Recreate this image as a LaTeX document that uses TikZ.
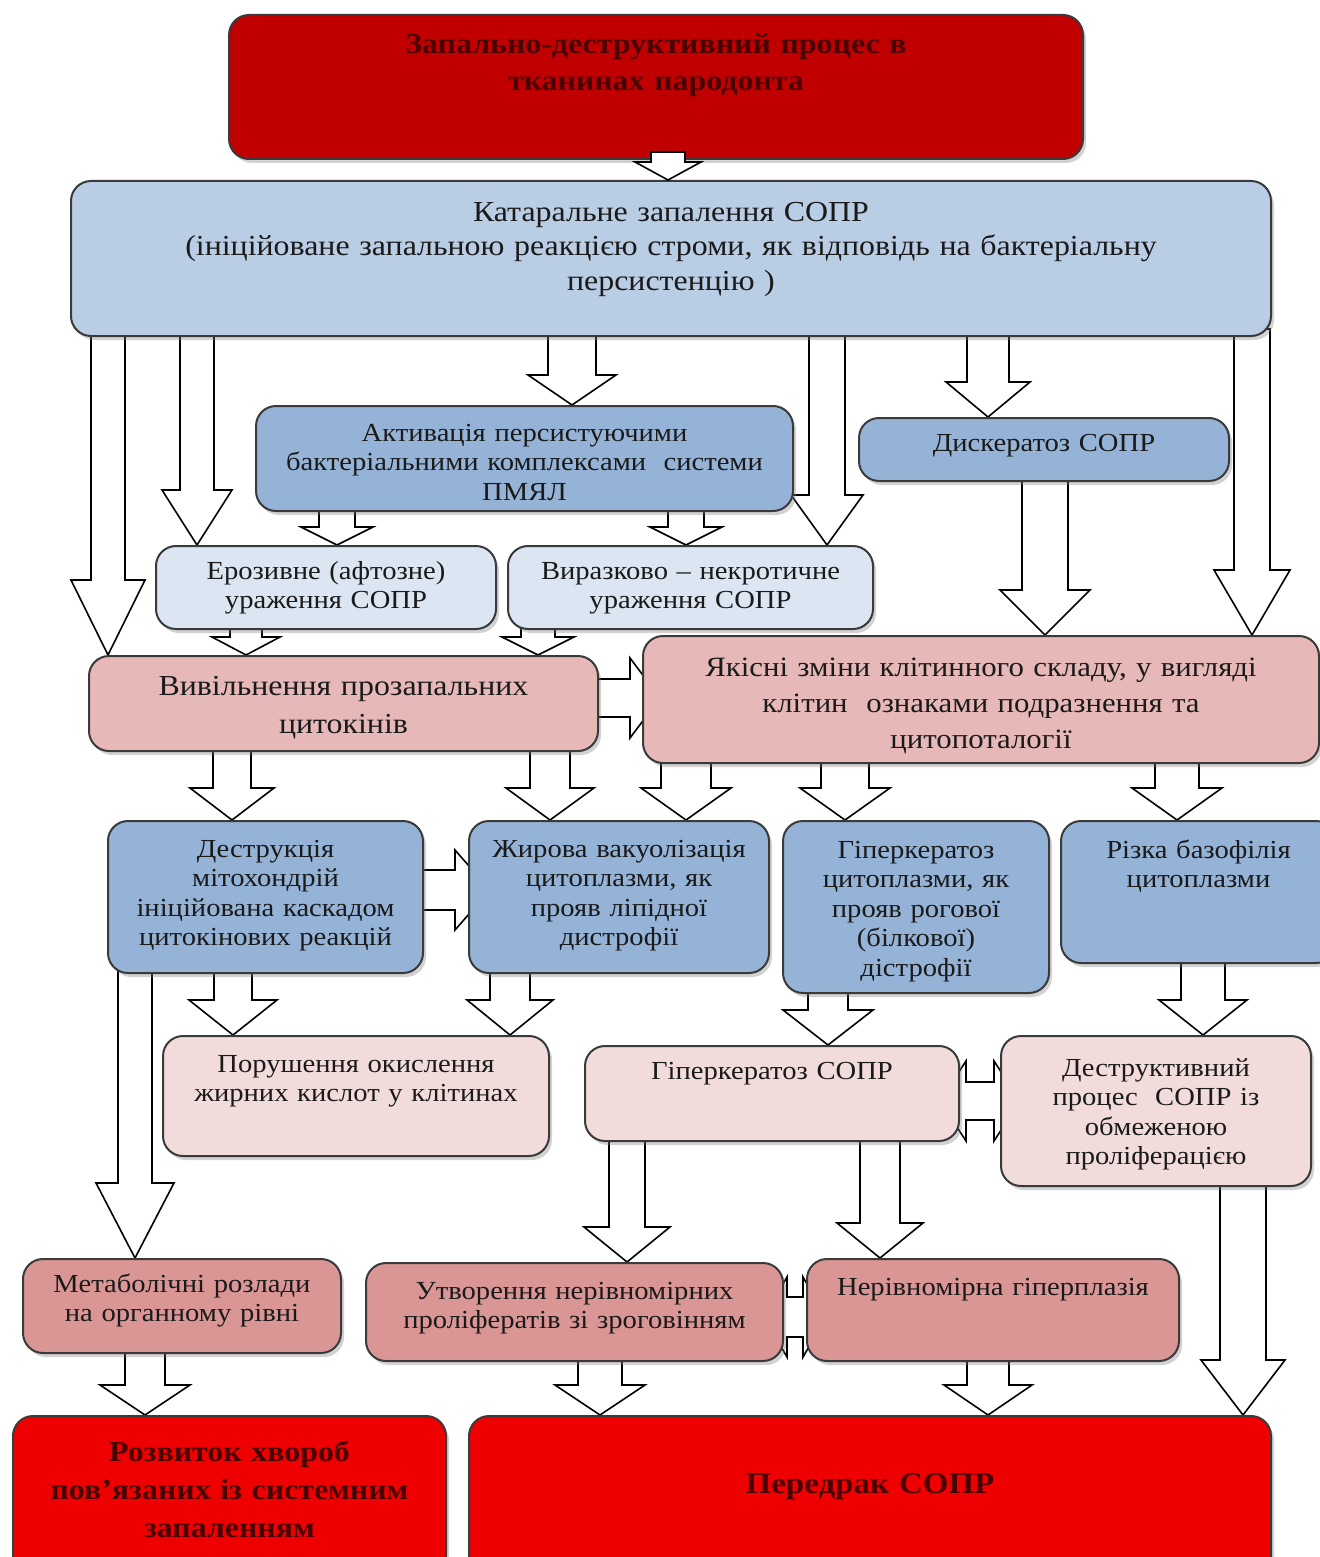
\documentclass[tikz,border=0pt]{standalone}
\usepackage{fontspec}
\setmainfont{Liberation Serif}[FakeStretch=1.1]
\usetikzlibrary{calc,shadows,backgrounds}

\definecolor{topred}{HTML}{C00000}
\definecolor{endred}{HTML}{EE0000}
\definecolor{catblue}{HTML}{B9CDE5}
\definecolor{midblue}{HTML}{95B3D7}
\definecolor{paleblue}{HTML}{DCE6F2}
\definecolor{rose}{HTML}{E6B9B8}
\definecolor{palerose}{HTML}{F2DCDB}
\definecolor{darkrose}{HTML}{D99694}
\definecolor{boxline}{HTML}{3A3A3A}
\definecolor{ink}{HTML}{1A1A1A}
\definecolor{redink}{HTML}{4A0000}

% block arrow downwards: x, from, to, shaft half width, head half width, head length
\newcommand{\vblock}[6]{%
  \path[blockarrow] let \p1=(#1,0 |- #2.south), \p2=(#1,0 |- #3.north) in
    (\x1-#4pt,\y1+8pt) -- (\x1-#4pt,\y2+#6pt) -- (\x1-#5pt,\y2+#6pt) -- (\x1,\y2)
    -- (\x1+#5pt,\y2+#6pt) -- (\x1+#4pt,\y2+#6pt) -- (\x1+#4pt,\y1+8pt) -- cycle;}
% block arrow to the right: y, from, to, shaft, head, head length, overshoot
\newcommand{\hblock}[7]{%
  \path[blockarrow] let \p1=(#2.east |- 0,#1), \p2=(#3.west |- 0,#1) in
    (\x1-8pt,\y1+#4pt) -- (\x2+#7pt-#6pt,\y1+#4pt) -- (\x2+#7pt-#6pt,\y1+#5pt)
    -- (\x2+#7pt,\y1) -- (\x2+#7pt-#6pt,\y1-#5pt) -- (\x2+#7pt-#6pt,\y1-#4pt)
    -- (\x1-8pt,\y1-#4pt) -- cycle;}
% double block arrow: y, left, right, shaft, head, head length, overshoot
\newcommand{\dblock}[7]{%
  \path[blockarrow] let \p1=(#2.east |- 0,#1), \p2=(#3.west |- 0,#1) in
    (\x1-#7pt,\y1) -- (\x1-#7pt+#6pt,\y1+#5pt) -- (\x1-#7pt+#6pt,\y1+#4pt)
    -- (\x2+#7pt-#6pt,\y1+#4pt) -- (\x2+#7pt-#6pt,\y1+#5pt) -- (\x2+#7pt,\y1)
    -- (\x2+#7pt-#6pt,\y1-#5pt) -- (\x2+#7pt-#6pt,\y1-#4pt)
    -- (\x1-#7pt+#6pt,\y1-#4pt) -- (\x1-#7pt+#6pt,\y1-#5pt) -- cycle;}

\tikzset{
  bx/.style={draw=boxline, line width=2pt, rounded corners=20pt, align=center,
    inner xsep=10pt, inner ysep=0pt, anchor=north west, text=ink,
    font=\fontsize{26}{29.5}\selectfont,
    drop shadow={shadow xshift=3pt, shadow yshift=-4pt, opacity=.35}},
  dims/.style n args={3}{text width={#1pt-20pt}, text height=#2pt, text depth=#3pt},
  redbox/.style={bx, text=redink, font=\bfseries\fontsize{29}{38}\selectfont},
  blockarrow/.style={draw=black, fill=white, line width=1.6pt, line join=miter}
}

\begin{document}
\begin{tikzpicture}[x=1pt, y=-1pt]
  \useasboundingbox (0,0) rectangle (1319,1557);

  % top and first level
  \node[redbox, fill=topred, dims={854}{39}{105}, font=\bfseries\fontsize{29}{37}\selectfont] (top) at (228,14)
    {Запально-деструктивний процес в\\тканинах пародонта};
  \node[bx, fill=catblue, dims={1200}{40}{115}, font=\fontsize{29}{35}\selectfont] (cat) at (70,180)
    {Катаральне запалення СОПР\\(ініційоване запальною реакцією строми, як відповідь на бактеріальну\\персистенцію )};

  \node[bx, fill=midblue, dims={537}{35}{70}] (act) at (255,405)
    {Активація персистуючими\\бактеріальними комплексами\ \ системи\\ПМЯЛ};
  \node[bx, fill=midblue, dims={370}{33}{30}] (disk) at (858,417) {Дискератоз СОПР};

  \node[bx, fill=paleblue, dims={340}{33}{50}] (eroz) at (155,545) {Ерозивне (афтозне)\\ураження СОПР};
  \node[bx, fill=paleblue, dims={365}{33}{50}] (vyraz) at (507,545) {Виразково – некротичне\\ураження СОПР};

  \node[bx, fill=rose, dims={509}{39}{56}, font=\fontsize{29}{38}\selectfont] (vyv) at (88,655)
    {Вивільнення прозапальних\\цитокінів};
  \node[bx, fill=rose, dims={676}{40}{87}, font=\fontsize{28}{36}\selectfont] (yak) at (642,635)
    {Якісні зміни клітинного складу, у вигляді\\клітин\ \ ознаками подразнення та\\цитопоталогії};

  % cell changes
  \node[bx, fill=midblue, dims={315}{36}{116}] (destr) at (107,820)
    {Деструкція\\мітохондрій\\ініційована каскадом\\цитокінових реакцій};
  \node[bx, fill=midblue, dims={300}{36}{116}] (zhyr) at (468,820)
    {Жирова вакуолізація\\цитоплазми, як\\прояв ліпідної\\дистрофії};
  \node[bx, fill=midblue, dims={266}{37}{135}] (hiperc) at (782,820)
    {Гіперкератоз\\цитоплазми, як\\прояв рогової\\(білкової)\\дістрофії};
  \node[bx, fill=midblue, dims={275}{37}{105}] (riz) at (1060,820) {Різка базофілія\\цитоплазми};

  \node[bx, fill=palerose, dims={386}{36}{84}] (porush) at (162,1035)
    {Порушення окислення\\жирних кислот у клітинах};
  \node[bx, fill=palerose, dims={374}{33}{62}] (hipS) at (584,1045) {Гіперкератоз СОПР};
  \node[bx, fill=palerose, dims={310}{40}{110}] (destrP) at (1000,1035)
    {Деструктивний\\процес\ \ СОПР із\\обмеженою\\проліферацією};

  \node[bx, fill=darkrose, dims={318}{33}{61}] (metab) at (22,1258) {Метаболічні розлади\\на органному рівні};
  \node[bx, fill=darkrose, dims={417}{36}{62}] (utvor) at (365,1262)
    {Утворення нерівномірних\\проліфератів зі зроговінням};
  \node[bx, fill=darkrose, dims={372}{36}{66}] (nerivn) at (806,1258) {Нерівномірна гіперплазія};

  % outcomes
  \node[redbox, fill=endred, dims={433}{45}{115}] (rozv) at (12,1415)
    {Розвиток хвороб\\пов’язаних із системним\\запаленням};
  \node[redbox, fill=endred, dims={802}{77}{83}, font=\bfseries\fontsize{30}{38}\selectfont] (peredrak) at (468,1415)
    {Передрак СОПР};

  % the first arrow lies over the bottom of the top box
  \vblock{668}{top}{cat}{17}{33}{18}

  \begin{scope}[on background layer]
    \fill[white] (0,0) rectangle (1319,1557);
    \vblock{108}{cat}{vyv}{17}{37}{75}
    \vblock{197}{cat}{eroz}{17}{35}{55}
    \vblock{572}{cat}{act}{24}{44}{30}
    \vblock{827}{cat}{vyraz}{18}{36}{50}
    \vblock{988}{cat}{disk}{21}{42}{35}
    \vblock{1252}{cat}{yak}{18}{38}{65}
    \vblock{337}{act}{eroz}{18}{36}{18}
    \vblock{686}{act}{vyraz}{18}{36}{18}
    \vblock{1045}{disk}{yak}{23}{45}{45}
    \vblock{246}{eroz}{vyv}{16}{34}{18}
    \vblock{538}{vyraz}{vyv}{17}{36}{18}
    \hblock{698}{vyv}{yak}{19}{40}{30}{18}
    \vblock{232}{vyv}{destr}{19}{42}{32}
    \vblock{550}{vyv}{zhyr}{20}{44}{32}
    \vblock{686}{yak}{zhyr}{25}{45}{32}
    \vblock{845}{yak}{hiperc}{24}{45}{32}
    \vblock{1177}{yak}{riz}{22}{45}{32}
    \hblock{890}{destr}{zhyr}{20}{40}{35}{22}
    \vblock{135}{destr}{metab}{17}{39}{75}
    \vblock{233}{destr}{porush}{19}{44}{35}
    \vblock{510}{zhyr}{porush}{20}{43}{35}
    \vblock{828}{hiperc}{hipS}{20}{45}{35}
    \vblock{1203}{riz}{destrP}{22}{44}{35}
    \dblock{1101}{hipS}{destrP}{19}{40}{26}{20}
    \vblock{627}{hipS}{utvor}{18}{43}{35}
    \vblock{880}{hipS}{nerivn}{20}{43}{35}
    \vblock{1243}{destrP}{peredrak}{23}{42}{55}
    \dblock{1317}{utvor}{nerivn}{20}{40}{23}{20}
    \vblock{145}{metab}{rozv}{20}{45}{30}
    \vblock{600}{utvor}{peredrak}{22}{45}{30}
    \vblock{988}{nerivn}{peredrak}{21}{44}{30}
  \end{scope}
\end{tikzpicture}
\end{document}
